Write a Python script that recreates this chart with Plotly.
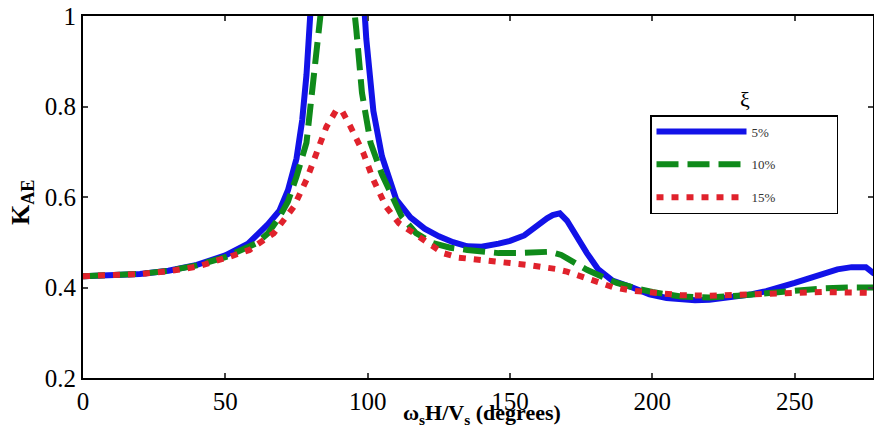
import plotly.graph_objects as go

# omega_s H / V_s (degrees) and K_AE
x_5 = [0, 10, 20, 30, 40, 50, 58, 65, 69, 72, 75, 77, 78.5, 80, 83, 86, 90, 94, 97, 99.5, 102, 105,
       110, 115, 120, 125, 130, 135, 140, 146, 150, 155, 160, 163, 165, 167.5, 170, 172, 175, 177,
       181, 186, 193, 199, 205, 210, 215, 220, 225, 230, 235, 240, 245, 250, 255, 260, 265, 270, 275, 278]
k_5 = [0.425, 0.427, 0.43, 0.437, 0.45, 0.471, 0.497, 0.54, 0.57, 0.615, 0.685, 0.77, 0.87, 1.02,
       1.2, 1.45, 1.6, 1.4, 1.2, 0.95, 0.79, 0.69, 0.595, 0.555, 0.53, 0.513, 0.5, 0.491, 0.49, 0.497,
       0.503, 0.515, 0.54, 0.553, 0.56, 0.564, 0.548, 0.527, 0.5, 0.476, 0.44, 0.415, 0.4, 0.385, 0.377,
       0.373, 0.372, 0.373, 0.376, 0.38, 0.385, 0.392, 0.4, 0.41, 0.42, 0.43, 0.44, 0.445, 0.445, 0.43]

x_10 = [0, 10, 20, 30, 40, 50, 55, 61, 65, 69, 72, 75, 78.5, 81, 83, 86, 90, 93, 96, 98, 101, 105,
        112, 117, 123, 129, 135, 146, 153, 158, 164, 168, 172, 177, 182, 187.5, 195, 200, 210, 220,
        230, 240, 250, 260, 270, 278]
k_10 = [0.425, 0.427, 0.43, 0.437, 0.449, 0.467, 0.48, 0.498, 0.52, 0.556, 0.59, 0.645, 0.72, 0.865,
        0.97, 1.15, 1.25, 1.15, 0.97, 0.83, 0.72, 0.65, 0.556, 0.52, 0.498, 0.488, 0.483, 0.476, 0.476,
        0.477, 0.479, 0.472, 0.457, 0.439, 0.425, 0.41, 0.397, 0.39, 0.38, 0.378, 0.382, 0.388, 0.394,
        0.398, 0.4, 0.4]

x_15 = [0, 10, 20, 30, 40, 51.5, 58.5, 67, 70, 74, 78.5, 82, 85.5, 89, 91, 94, 98.5, 102, 106.5, 111,
        115, 120, 126.5, 132, 138, 144, 150, 156, 161.5, 166, 170, 175.5, 180, 186, 193, 200, 210, 220,
        230, 240, 250, 260, 270, 278]
k_15 = [0.425, 0.427, 0.43, 0.436, 0.446, 0.468, 0.483, 0.52, 0.545, 0.578, 0.638, 0.697, 0.755,
        0.792, 0.79, 0.755, 0.697, 0.638, 0.578, 0.542, 0.525, 0.5, 0.476, 0.466, 0.461, 0.457, 0.454,
        0.45, 0.446, 0.441, 0.435, 0.423, 0.415, 0.401, 0.393, 0.388, 0.383, 0.382, 0.383, 0.385, 0.388,
        0.39, 0.39, 0.388]

x_ticks = [0, 50, 100, 150, 200, 250]
y_ticks = [0.2, 0.4, 0.6, 0.8, 1]
y_tick_text = ['0.2', '0.4', '0.6', '0.8', '1']

serif = 'Liberation Serif'
pad = '&nbsp;' * 17

fig = go.Figure()

fig.add_trace(go.Scatter(x=x_5, y=k_5, mode='lines', name='5%' + pad, legendgroup='a',
                         line=dict(color='#1212e8', width=6)))
fig.add_trace(go.Scatter(x=x_10, y=k_10, mode='lines', name='10%' + pad, legendgroup='b',
                         line=dict(color='#0f8a1a', width=6, dash='22px,9px')))
fig.add_trace(go.Scatter(x=x_15, y=k_15, mode='lines', name='15%' + pad, legendgroup='c',
                         line=dict(color='#e0222c', width=6, dash='7px,8px')))

# plot area is 790 x 362 px, starting at (83, 16)
def px(x, y):
    return (x - 83) / 790, 1 - (y - 16) / 362

lx, ly = px(650, 115)
xi_x, xi_y = px(745, 100)
xt_x, xt_y = px(482, 414)
yt_x, yt_y = px(22, 202)

fig.update_layout(
    width=874, height=434,
    margin=dict(l=83, r=1, t=16, b=56, autoexpand=False),
    plot_bgcolor='white', paper_bgcolor='white',
    showlegend=True,
    legend=dict(x=lx, y=ly, xanchor='left', yanchor='top',
                bgcolor='white', bordercolor='black', borderwidth=1.5,
                font=dict(family=serif, size=13, color='#333'),
                itemwidth=90, tracegroupgap=13),
    annotations=[
        dict(text='ξ', x=xi_x, y=xi_y, xref='paper', yref='paper', showarrow=False,
             xanchor='center', yanchor='middle',
             font=dict(family=serif, size=22, color='black')),
        dict(text='<b>ω<sub>s</sub>H/V<sub>s</sub> (degrees)</b>', x=xt_x, y=xt_y,
             xref='paper', yref='paper', showarrow=False, xanchor='center', yanchor='middle',
             font=dict(family=serif, size=22, color='black')),
        dict(text='<b>K<sub>AE</sub></b>', x=yt_x, y=yt_y, xref='paper', yref='paper',
             showarrow=False, textangle=-90, xanchor='center', yanchor='middle',
             font=dict(family=serif, size=26, color='black')),
    ],
)

fig.update_xaxes(range=[0, 277.5], tickvals=x_ticks, ticks='inside', ticklen=5, tickwidth=1.5,
                 showline=True, linecolor='black', linewidth=2, mirror='ticks', showgrid=False,
                 zeroline=False, automargin=False,
                 tickfont=dict(family=serif, size=25, color='black'))
fig.update_yaxes(range=[0.2, 1], tickvals=y_ticks, ticktext=y_tick_text, ticks='inside', ticklen=5,
                 tickwidth=1.5, showline=True, linecolor='black', linewidth=2, mirror='ticks',
                 showgrid=False, zeroline=False, automargin=False,
                 tickfont=dict(family=serif, size=25, color='black'))

fig.write_html('out.html', config={'displayModeBar': False},
               post_script="document.body.style.margin='0';")
